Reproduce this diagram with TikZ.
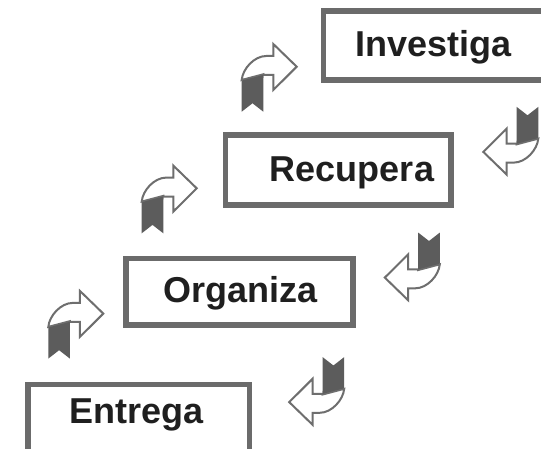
\documentclass[tikz,border=0pt]{standalone}
\usepackage{fontspec}
\setmainfont{Liberation Sans}
\definecolor{boxgray}{HTML}{6B6B6B}
\definecolor{txt}{HTML}{1F1F1F}
\definecolor{ribbon}{HTML}{5C5C5C}
\definecolor{outl}{HTML}{6E6E6E}
\tikzset{
  stepbox/.style={draw=boxgray, line width=5.5pt, fill=white, inner sep=0pt, rectangle},
  steptext/.style={text=txt, font=\fontsize{36}{40}\selectfont\bfseries, anchor=base, inner sep=0pt},
  ribbonfill/.style={fill=ribbon},
  outlinepath/.style={draw=outl, line width=2pt, fill=white, line join=miter},
  bentarrow/.pic={
    \fill[ribbonfill] (-27.5,2.2) -- (-5.9,-3.5) -- (-5.9,33.9) -- (-16.7,25.5) -- (-27.5,33.9) -- cycle;
    \draw[outlinepath] (-27.5,2.2) .. controls (-26.5,-9) and (-15,-21.8) .. (-3,-21.8) -- (4.1,-21.8) -- (4.1,-33.8) -- (27.5,-11.1) -- (4.1,12.2) -- (4.1,-2.8) -- (-5.9,-2.8) -- (-5.9,-3.5) -- cycle;
    \fill[ribbonfill] (-26.5,2.6) -- (-5.9,-2.8) -- (-5.9,0) -- (-26.5,4) -- cycle;
  }
}
\begin{document}
\begin{tikzpicture}[x=1pt,y=-1pt]
\clip (0,0) rectangle (541,449);
\fill[white] (0,0) rectangle (541,449);
% boxes
\node[stepbox, minimum width=236.5pt, minimum height=69pt] (inv) at (441.75,45.5) {};
\node[stepbox, minimum width=225.5pt, minimum height=70pt] (rec) at (338.25,170) {};
\node[stepbox, minimum width=227pt, minimum height=66.5pt] (org) at (239.5,291.75) {};
\node[stepbox, minimum width=221.5pt, minimum height=85.5pt] (ent) at (138.75,427.25) {};
% texts
\node[steptext] (invt) at (433.5,57) {Investiga};
\node[steptext] (rect) at (352,182) {Recupera};
\node[steptext] (orgt) at (240.5,302) {Organiza};
\node[steptext] (entt) at (136.5,423) {Entrega};
% arrows up
\pic at (269.2,77.8) {bentarrow};
\pic at (169.2,199.4) {bentarrow};
\pic at (75.8,324.7) {bentarrow};
% arrows down
\pic[rotate=180] at (510.8,140.8) {bentarrow};
\pic[rotate=180] at (412.3,266.5) {bentarrow};
\pic[rotate=180] at (316.7,391) {bentarrow};
\end{tikzpicture}
\end{document}
